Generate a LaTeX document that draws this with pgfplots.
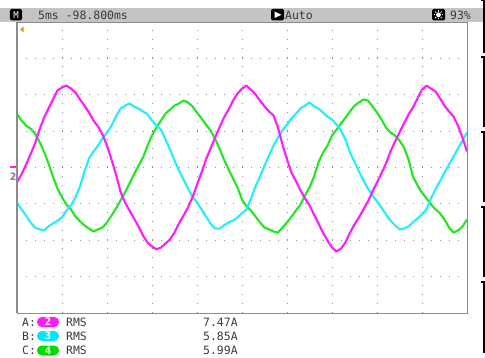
\documentclass[border=0pt]{standalone}
\usepackage{pgfplots}
\pgfplotsset{compat=1.18}
\usetikzlibrary{calc}
\usepackage{fontspec}
\newfontfamily\scopefont{DejaVu Sans Mono}
\definecolor{chA}{HTML}{FF1AFF}
\definecolor{chB}{HTML}{22EEFF}
\definecolor{chC}{HTML}{22E622}
\definecolor{pillB}{HTML}{00E6FF}
\definecolor{pillC}{HTML}{00DD00}
\definecolor{hdr}{HTML}{C4C4C4}
\definecolor{txt}{HTML}{3A3A3A}
\definecolor{grd}{HTML}{8C8C8C}
\definecolor{trigorange}{HTML}{FF8C00}
\begin{document}
\begin{tikzpicture}
\path[use as bounding box] (-17bp,-45bp) rectangle (468bp,313bp);
% header bar
\fill[hdr] (-17bp,291.3bp) rectangle (466bp,305bp);
\begin{axis}[at={(0,0)}, anchor=south west, scale only axis,
  width=450bp, height=291bp,
  xmin=0, xmax=50, ymin=-4, ymax=4,
  xtick={5,10,...,45}, ytick={-3,-2,...,3},
  xticklabels={}, yticklabels={}, major tick length=0pt,
  axis line style={draw=grd, line width=0.7bp},
  grid=major,
  x grid style={grd, line width=0.9bp, dash pattern=on 0.9bp off 8.2bp},
  y grid style={grd, line width=0.9bp, dash pattern=on 0.9bp off 8.1bp},
  every axis plot/.append style={line width=2.1bp, line join=round},
]
\addplot[chC, no marks] table {
0 1.48
0.5 1.29
1 1.15
1.5 1.07
2 0.93
2.5 0.71
3 0.44
3.5 0.11
4 -0.25
4.5 -0.58
5 -0.82
5.5 -1.02
6 -1.15
6.5 -1.35
7 -1.48
7.5 -1.59
8 -1.68
8.5 -1.76
9 -1.70
9.5 -1.65
10 -1.51
10.5 -1.32
11 -1.13
11.5 -0.91
12 -0.69
12.5 -0.44
13 -0.19
13.5 0.05
14 0.27
14.5 0.60
15 0.88
15.5 1.10
16 1.29
16.5 1.48
17 1.59
17.5 1.70
18 1.76
18.5 1.84
19 1.79
19.5 1.68
20 1.51
20.5 1.35
21 1.18
21.5 1.02
22 0.80
22.5 0.52
23 0.22
23.5 -0.05
24 -0.30
24.5 -0.55
25 -0.88
25.5 -1.07
26 -1.18
26.5 -1.35
27 -1.51
27.5 -1.65
28 -1.70
28.5 -1.76
29 -1.79
29.5 -1.65
30 -1.51
30.5 -1.35
31 -1.18
31.5 -1.02
32 -0.77
32.5 -0.55
33 -0.25
33.5 0.14
34 0.41
34.5 0.60
35 0.88
35.5 1.04
36 1.21
36.5 1.37
37 1.54
37.5 1.70
38 1.79
38.5 1.87
39 1.84
39.5 1.68
40 1.51
40.5 1.32
41 1.10
41.5 0.96
42 0.88
42.5 0.74
43 0.55
43.5 0.22
44 -0.25
44.5 -0.49
45 -0.69
45.5 -0.85
46 -1.02
46.5 -1.15
47 -1.26
47.5 -1.43
48 -1.65
48.5 -1.79
49 -1.73
49.5 -1.62
50 -1.43
};
\addplot[chB, no marks] table {
0 -0.96
0.5 -1.15
1 -1.32
1.5 -1.51
2 -1.65
2.5 -1.70
3 -1.73
3.5 -1.62
4 -1.54
4.5 -1.46
5 -1.37
5.5 -1.18
6 -1.04
6.5 -0.82
7 -0.52
7.5 -0.11
8 0.25
8.5 0.44
9 0.60
9.5 0.80
10 0.96
10.5 1.15
11 1.40
11.5 1.62
12 1.70
12.5 1.76
13 1.68
13.5 1.62
14 1.54
14.5 1.46
15 1.29
15.5 1.15
16 1.04
16.5 0.77
17 0.49
17.5 0.19
18 -0.08
18.5 -0.33
19 -0.58
19.5 -0.80
20 -0.96
20.5 -1.15
21 -1.35
21.5 -1.54
22 -1.68
22.5 -1.68
23 -1.59
23.5 -1.51
24 -1.46
24.5 -1.37
25 -1.26
25.5 -1.15
26 -0.85
26.5 -0.52
27 -0.25
27.5 0.05
28 0.33
28.5 0.60
29 0.82
29.5 1.02
30 1.18
30.5 1.35
31 1.48
31.5 1.62
32 1.70
32.5 1.79
33 1.68
33.5 1.62
34 1.51
34.5 1.40
35 1.32
35.5 1.18
36 1.02
36.5 0.77
37 0.41
37.5 0.16
38 -0.11
38.5 -0.36
39 -0.58
39.5 -0.77
40 -0.93
40.5 -1.10
41 -1.29
41.5 -1.46
42 -1.59
42.5 -1.70
43 -1.68
43.5 -1.62
44 -1.51
44.5 -1.40
45 -1.29
45.5 -1.15
46 -0.85
46.5 -0.60
47 -0.38
47.5 -0.14
48 0.08
48.5 0.30
49 0.52
49.5 0.74
50 0.96
};
\addplot[chA, no marks] table {
0 -0.41
0.5 -0.19
1 0.08
1.5 0.36
2 0.66
2.5 1.04
3 1.37
3.5 1.62
4 1.87
4.5 2.12
5 2.20
5.5 2.25
6 2.17
6.5 2.06
7 1.87
7.5 1.70
8 1.51
8.5 1.29
9 1.13
9.5 0.91
10 0.60
10.5 0.22
11 -0.19
11.5 -0.66
12 -0.96
12.5 -1.18
13 -1.40
13.5 -1.62
14 -1.87
14.5 -2.06
15 -2.17
15.5 -2.25
16 -2.20
16.5 -2.09
17 -1.98
17.5 -1.79
18 -1.54
18.5 -1.32
19 -1.10
19.5 -0.82
20 -0.47
20.5 -0.14
21 0.22
21.5 0.52
22 0.82
22.5 1.10
23 1.37
23.5 1.59
24 1.84
24.5 2.03
25 2.17
25.5 2.25
26 2.14
26.5 2.01
27 1.84
27.5 1.68
28 1.54
28.5 1.43
29 1.10
29.5 0.63
30 0.22
30.5 -0.14
31 -0.38
31.5 -0.63
32 -0.85
32.5 -1.04
33 -1.29
33.5 -1.54
34 -1.79
34.5 -2.01
35 -2.20
35.5 -2.31
36 -2.23
36.5 -2.06
37 -1.79
37.5 -1.57
38 -1.37
38.5 -1.15
39 -0.93
39.5 -0.66
40 -0.41
40.5 -0.16
41 0.11
41.5 0.44
42 0.71
42.5 0.96
43 1.21
43.5 1.46
44 1.65
44.5 1.90
45 2.14
45.5 2.25
46 2.17
46.5 2.09
47 1.90
47.5 1.70
48 1.54
48.5 1.40
49 1.15
49.5 0.82
50 0.44
};
\end{axis}
% left border emphasised
\draw[grd, line width=1.4bp] (0,0) -- (0,291.3bp);
% header contents
\fill[black, rounded corners=1.5bp] (-7bp,292.5bp) rectangle (5bp,304bp);
\node[white, font=\scopefont\fontsize{9}{9}\selectfont] at (-1bp,298.2bp) {M};
\node[txt, anchor=west, inner sep=0pt, font=\scopefont\fontsize{11.5}{12}\selectfont] at (21bp,298bp) {5ms -98.800ms};
\fill[black, rounded corners=1.5bp] (254bp,292.5bp) rectangle (267bp,304bp);
\fill[white] (257.5bp,295bp) -- (264.5bp,298.2bp) -- (257.5bp,301.5bp) -- cycle;
\node[txt, anchor=west, inner sep=0pt, font=\scopefont\fontsize{11.5}{12}\selectfont] at (268bp,298bp) {Auto};
\fill[black, rounded corners=1.5bp] (415bp,292.5bp) rectangle (428bp,304bp);
\fill[white] (421.5bp,298.2bp) circle (2.4bp);
\foreach \a in {0,45,...,315} {\draw[white, line width=0.9bp] ($(421.5bp,298.2bp)+(\a:3.2bp)$) -- ($(421.5bp,298.2bp)+(\a:4.6bp)$);}
\node[txt, anchor=west, inner sep=0pt, font=\scopefont\fontsize{11.5}{12}\selectfont] at (433bp,298bp) {93\%};
% trigger marker
\fill[trigorange] (3bp,283.5bp) -- (6.5bp,286.5bp) -- (6.5bp,280.5bp) -- cycle;
% channel ground marker
\draw[chA, line width=1.2bp] (-7bp,146bp) -- (-1bp,146bp);
\node[chC, font=\scopefont\bfseries\fontsize{10}{10}\selectfont, inner sep=0pt] at (-3.6bp,136.2bp) {2};
\node[chA, font=\scopefont\bfseries\fontsize{10}{10}\selectfont, inner sep=0pt, opacity=0.75] at (-3.9bp,136.5bp) {2};
% right side frame segments
\foreach \ya/\yb in {313/260, 256/186, 181/111, 106/36, 31/-40} {
  \draw[black, line width=1.3bp] (464bp,\ya bp) -- (467bp,\ya bp) -- (467bp,\yb bp);
}
% measurement rows
\foreach \yy/\lab/\col/\num/\val in {-9/A/chA/2/7.47A, -23/B/pillB/3/5.85A, -37.5/C/pillC/4/5.99A} {
  \node[txt, anchor=west, inner sep=0pt, font=\scopefont\fontsize{11.5}{12}\selectfont] at (5bp,\yy bp) {\lab:};
  \fill[\col, rounded corners=4.8bp] (20bp,\yy bp-5bp) rectangle (42bp,\yy bp+5bp);
  \node[white, inner sep=0pt, font=\scopefont\bfseries\fontsize{10.5}{11}\selectfont] at (31bp,\yy bp) {\num};
  \node[txt, anchor=west, inner sep=0pt, font=\scopefont\fontsize{11.5}{12}\selectfont] at (49bp,\yy bp) {RMS};
  \node[txt, anchor=west, inner sep=0pt, font=\scopefont\fontsize{11.5}{12}\selectfont] at (186bp,\yy bp) {\val};
}
\end{tikzpicture}
\end{document}
